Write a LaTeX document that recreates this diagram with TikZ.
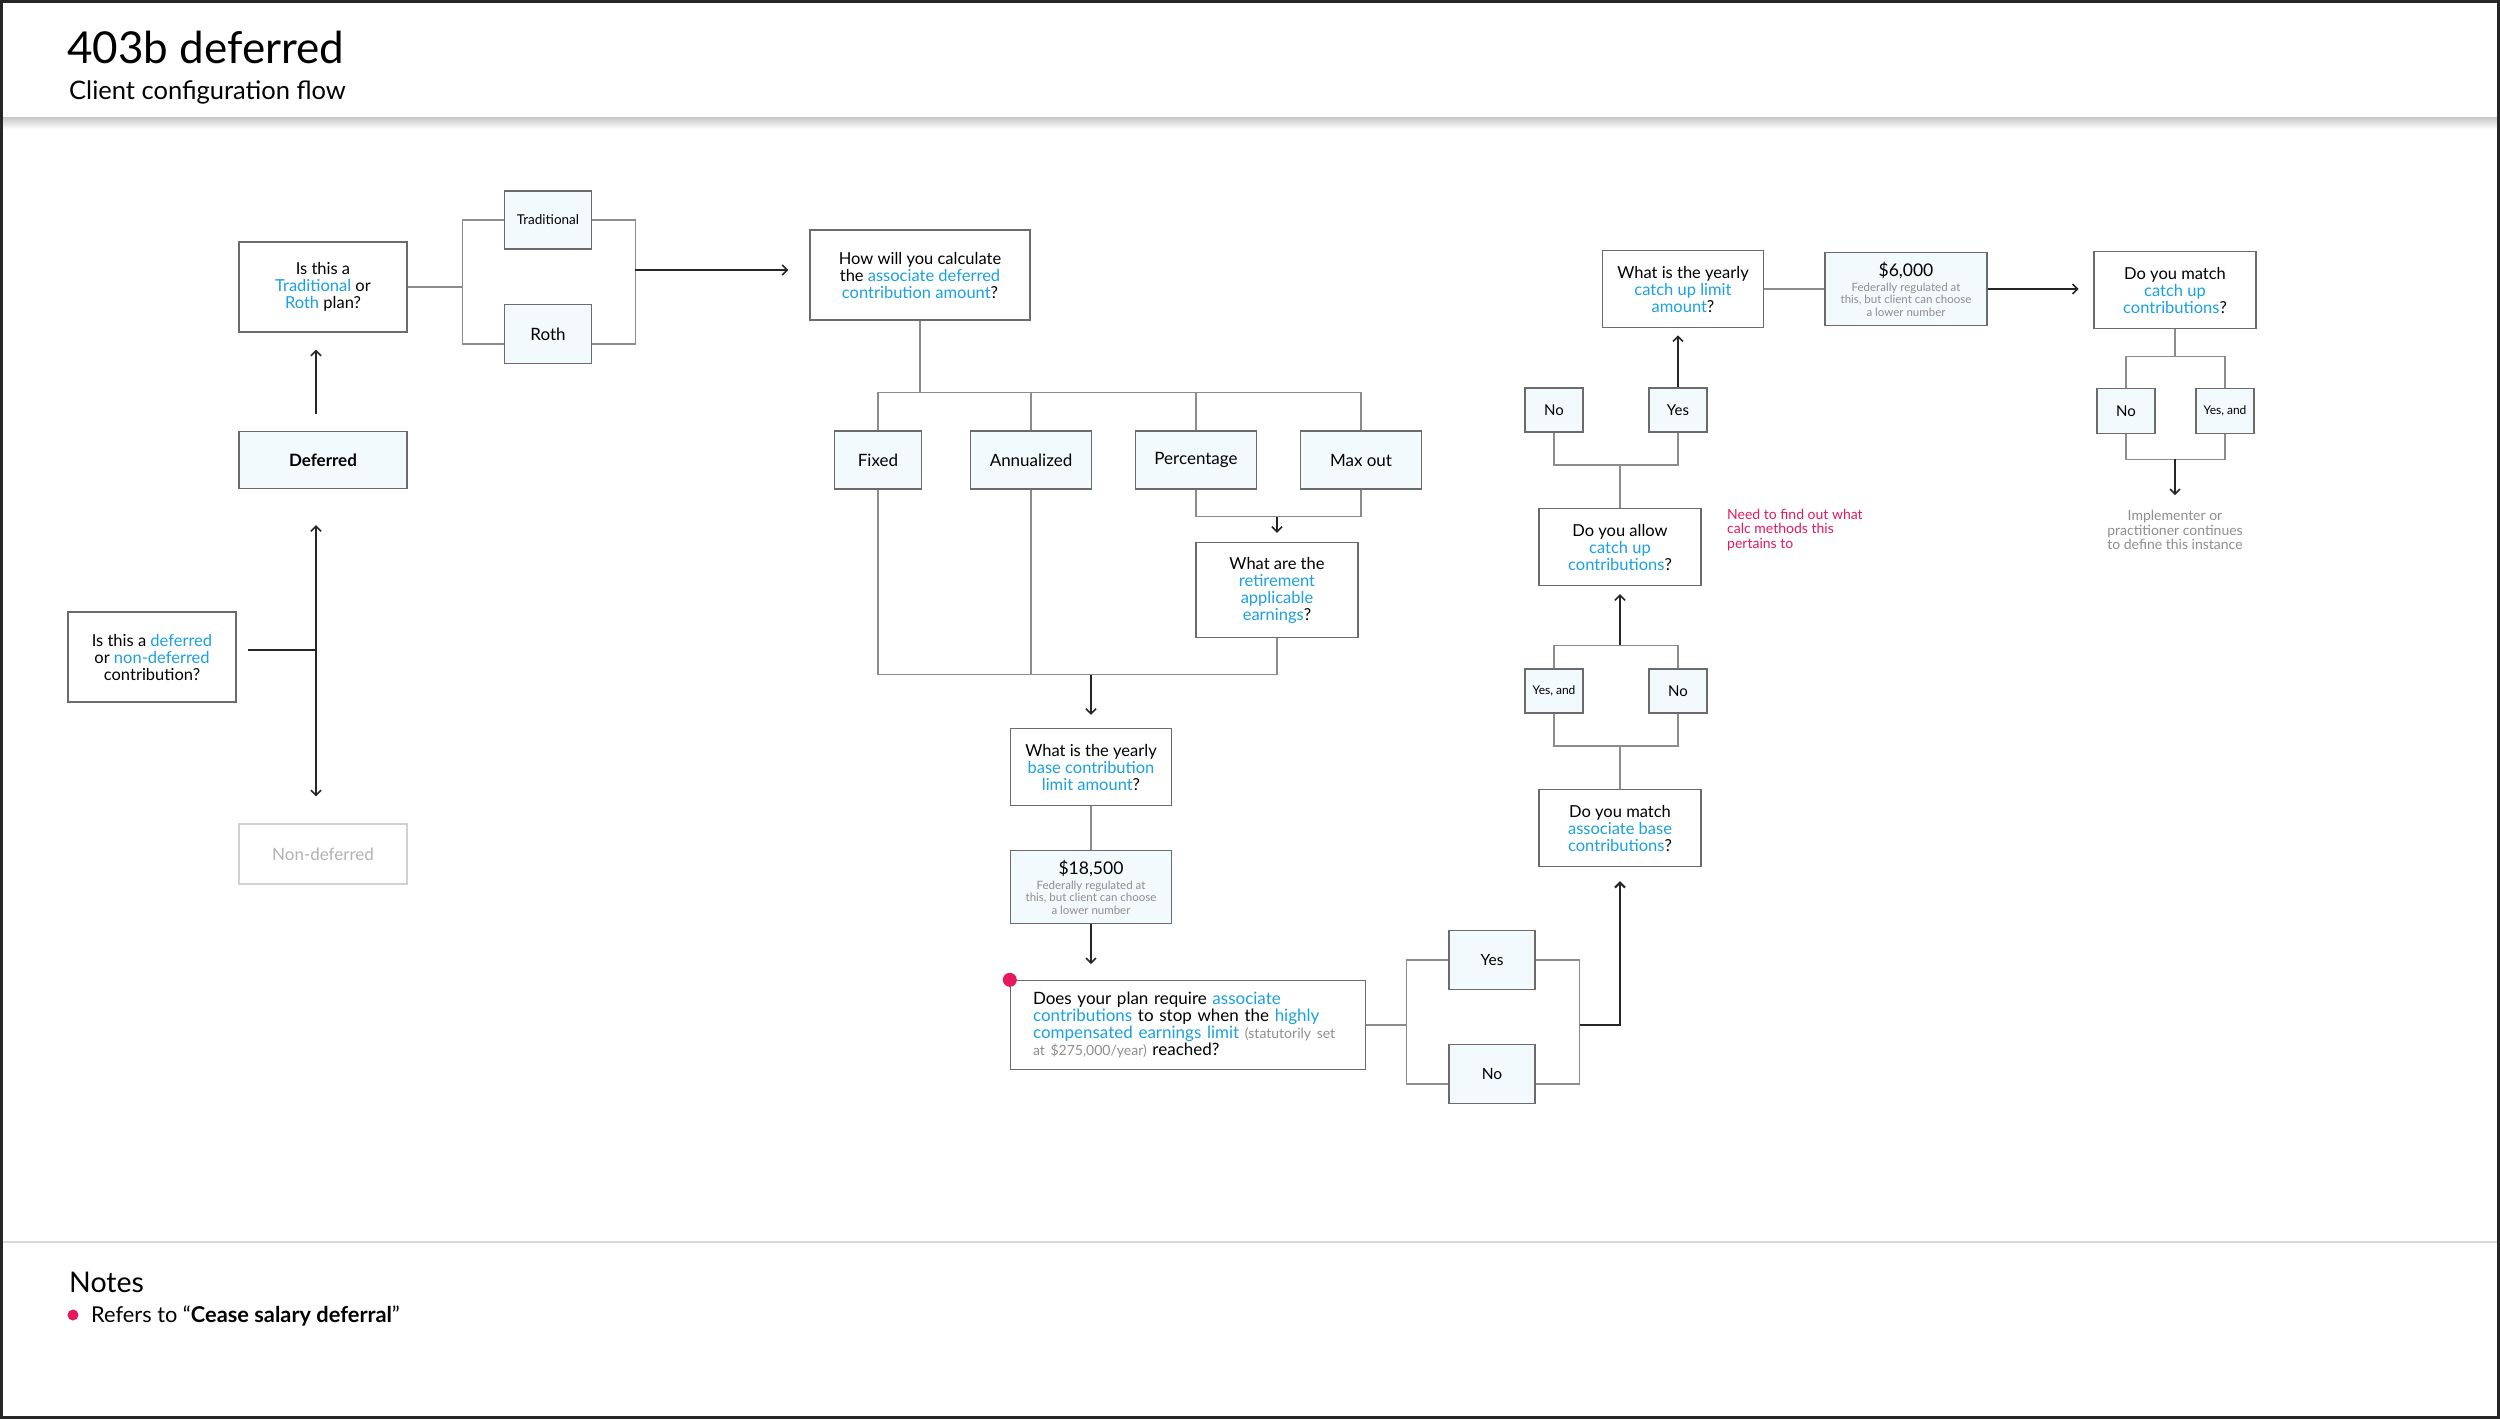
\documentclass[tikz,border=0pt]{standalone}
\usepackage{fontspec}
\setmainfont{Lato}
\usetikzlibrary{arrows.meta, positioning}

\definecolor{qblue}{HTML}{1BA0E1}
\definecolor{alert}{HTML}{E5195E}
\definecolor{boxfill}{HTML}{F3FAFD}
\definecolor{edge}{HTML}{6B6B6B}
\definecolor{wirecol}{HTML}{8C8C8C}
\definecolor{muted}{HTML}{8E8E8E}
\newcommand{\hl}[1]{\textcolor{qblue}{#1}}
\newcommand{\fs}[2]{\fontsize{#1}{#2}\selectfont}

\begin{document}
\begin{tikzpicture}[
  x=1pt, y=-1pt,
  qbox/.style={draw=edge, line width=1.4pt, fill=white, align=center, inner sep=0pt,
               minimum width=162pt, minimum height=77pt, font=\fs{16.5}{17}},
  obox/.style={qbox, fill=boxfill, minimum width=121pt, minimum height=58pt, font=\fs{17}{19}},
  sbox/.style={obox, minimum width=58pt, minimum height=44pt, font=\fs{15}{17}},
  vbox/.style={obox, minimum width=162pt, minimum height=73pt, font=\fs{11.5}{12.3}},
  wire/.style={draw=wirecol, line width=1.4pt},
  dark/.style={draw=black!85, line width=1.6pt},
  flow/.style={dark, -{Straight Barb[length=5pt, width=10pt]}},
  lab/.style={align=center, inner sep=0pt, font=\fs{14}{14.8}}
]
\useasboundingbox (0,0) rectangle (2500,1419);
\fill[white] (0,0) rectangle (2500,1419);

% header and footer
\node[anchor=base west, inner sep=0pt, font=\fs{44}{50}] (title) at (67,63) {403b deferred};
\node[anchor=base west, inner sep=0pt, font=\fs{25.5}{29}] (subtitle) at (69,99) {Client configuration flow};
\shade[top color=black!22, bottom color=white] (0,117) rectangle (2500,129);
\draw[black!15, line width=2pt] (0,1242) -- (2500,1242);
\node[anchor=base west, inner sep=0pt, font=\fs{28.5}{32}] (notes) at (69,1292) {Notes};
\fill[alert] (73,1315) circle (5.5);
\node[anchor=base west, inner sep=0pt, font=\fs{21.8}{25}] (ref) at (91,1322) {Refers to “\textbf{Cease salary deferral}”};

% deferral and plan type
\node[qbox, minimum width=168pt, minimum height=90pt] (q1) at (152,657) {Is this a \hl{deferred}\\or \hl{non-deferred}\\contribution?};
\node[obox, minimum width=168pt, minimum height=57pt, font=\fs{17}{19}\bfseries] (deferred) at (323,460) {Deferred};
\node[qbox, draw=black!18, text=black!30, minimum width=168pt, minimum height=60pt, font=\fs{17}{19}] (nondef) at (323,854) {Non-deferred};
\node[qbox, minimum width=168pt, minimum height=90pt] (q2) at (323,287) {Is this a\\\hl{Traditional} or\\\hl{Roth} plan?};
\node[obox, minimum width=87pt, font=\fs{13.5}{15}] (trad) at (548,220) {Traditional};
\node[obox, minimum width=87pt, minimum height=59pt] (roth) at (548,334) {Roth};

% calculation method
\node[qbox, minimum width=220pt, minimum height=90pt] (q3) at (920,275) {How will you calculate\\the \hl{associate deferred}\\\hl{contribution amount}?};
\node[obox, minimum width=87pt] (fixed) at (878,460) {Fixed};
\node[obox] (annual) at (1031,460) {Annualized};
\node[obox] (percent) at (1196,460) {Percentage};
\node[obox] (maxout) at (1361,460) {Max out};
\node[qbox, minimum height=95pt] (q4) at (1277,590) {What are the\\\hl{retirement}\\\hl{applicable}\\\hl{earnings}?};

% base limit
\node[qbox, minimum width=161pt] (q5) at (1091,767) {What is the yearly\\\hl{base contribution}\\\hl{limit amount}?};
\node[vbox, minimum width=161pt] (v1) at (1091,887) {{\fs{17.5}{19}\$18,500}\\[3pt]\textcolor{muted}{Federally regulated at}\\\textcolor{muted}{this, but client can choose}\\\textcolor{muted}{a lower number}};
\node[qbox, minimum width=355pt, minimum height=89pt, text width=310pt, align=left, font=\fs{17}{17}] (q6) at (1188,1025)
  {Does your plan require \hl{associate}\\\hl{contributions} to stop when the \hl{highly}\\\hl{compensated earnings limit} {\fs{14}{17}\color{muted}(statutorily set}\\{\fs{14}{17}\color{muted}at \$275,000/year)} reached?};
\fill[alert] (q6.north west) circle (7);
\node[obox, minimum width=86pt, minimum height=59pt, font=\fs{15.5}{17}] (yes1) at (1492,960) {Yes};
\node[obox, minimum width=86pt, minimum height=59pt, font=\fs{15.5}{17}] (no1) at (1492,1074) {No};

% matching and catch up
\node[qbox] (q7) at (1620,828) {Do you match\\\hl{associate base}\\\hl{contributions}?};
\node[sbox, font=\fs{12}{13}] (yesand1) at (1554,691) {Yes, and};
\node[sbox] (no2) at (1678,691) {No};
\node[qbox] (q8) at (1620,547) {Do you allow\\\hl{catch up}\\\hl{contributions}?};
\node[sbox] (no3) at (1554,410) {No};
\node[sbox] (yes2) at (1678,410) {Yes};
\node[lab, anchor=west, align=left, text=alert] (todo) at (1727,530) {Need to find out what\\calc methods this\\pertains to};
\node[qbox, minimum width=161pt] (q9) at (1683,289) {What is the yearly\\\hl{catch up limit}\\\hl{amount}?};
\node[vbox] (v2) at (1906,289) {{\fs{17.5}{19}\$6,000}\\[3pt]\textcolor{muted}{Federally regulated at}\\\textcolor{muted}{this, but client can choose}\\\textcolor{muted}{a lower number}};
\node[qbox] (q10) at (2175,290) {Do you match\\\hl{catch up}\\\hl{contributions}?};
\node[sbox, minimum height=45pt] (no4) at (2126,411) {No};
\node[sbox, minimum height=45pt, font=\fs{12}{13}] (yesand2) at (2225,411) {Yes, and};
\node[lab, text=muted] (endnote) at (2175,530) {Implementer or\\practitioner continues\\to define this instance};

% connectors, left part
\coordinate (fork1) at (316,650);
\draw[dark] ([xshift=11pt, yshift=7pt]q1.east) -- (fork1);
\draw[flow] (fork1) -- ([xshift=-7pt, yshift=-36pt]deferred.south);
\draw[flow] (fork1) -- ([xshift=-7pt, yshift=27pt]nondef.north);
\draw[flow] ([xshift=-7pt, yshift=17pt]deferred.north) -- ([xshift=-7pt, yshift=-17pt]q2.south);
\draw[wire] (q2.east) -- ++(55,0) coordinate (fork2) |- (trad.west);
\draw[wire] (fork2) |- ([yshift=-10pt]roth.west);
\draw[wire] (trad.east) -- ++(43,0) |- ([yshift=-10pt]roth.east);
\draw[flow] ([xshift=43pt, yshift=-50pt]trad.east) -- ([xshift=-21pt, yshift=5pt]q3.west);

% calculation method
\draw[wire] (q3.south) -- ++(0,72) coordinate (bus1);
\draw[wire] (fixed.north) |- (bus1) -| (maxout.north);
\draw[wire] (annual.north) -- (annual.north |- bus1);
\draw[wire] (percent.north) -- (percent.north |- bus1);
\draw[wire] (percent.south) -- ++(0,27) coordinate (join3) -| (maxout.south);
\draw[flow] (q4.north |- join3) -- ([yshift=9pt]q4.north);
\draw[wire] (fixed.south) -- ++(0,185) coordinate (bus2) -| (q4.south);
\draw[wire] (annual.south) -- (annual.south |- bus2);
\draw[flow] (q5.north |- bus2) -- ([yshift=13pt]q5.north);
\draw[wire] (q5.south) -- (v1.north);
\draw[flow] (v1.south) -- ++(0,40);

% yes or no to base match
\draw[wire] (q6.east) -- ++(40,0) coordinate (fork3) |- (yes1.west);
\draw[wire] (fork3) |- ([yshift=-10pt]no1.west);
\draw[wire] (yes1.east) -- ++(44,0) |- ([yshift=-10pt]no1.east);
\path (yes1.east) ++(44,65) coordinate (join4);
\draw[flow, line width=2pt] (join4) -| ([yshift=-14pt]q7.south);
\draw[wire] (q7.north) -- ++(0,-43) coordinate (bus5);
\draw[wire] (yesand1.south) |- (bus5) -| (no2.south);
\draw[wire] (yesand1.north) -- ++(0,-23) coordinate (bus6) -| (no2.north);
\draw[flow] (q8.south |- bus6) -- ([yshift=-8pt]q8.south);
\draw[wire] (q8.north) -- ++(0,-43) coordinate (bus7);
\draw[wire] (no3.south) |- (bus7) -| (yes2.south);
\draw[flow] (yes2.north) -- ++(0,-52);
\draw[wire] (q9.east) -- (v2.west);
\draw[flow] (v2.east) -- ++(91,0);
\draw[wire] (q10.south) -- ++(0,27) coordinate (bus8);
\draw[wire] (no4.north) |- (bus8) -| (yesand2.north);
\draw[wire] (no4.south) -- ++(0,25) coordinate (bus9) -| (yesand2.south);
\draw[flow] (q10.south |- bus9) -- ++(0,36);

\draw[line width=3pt, black!85] (1.5,1.5) rectangle (2498.5,1417.5);
\end{tikzpicture}
\end{document}
